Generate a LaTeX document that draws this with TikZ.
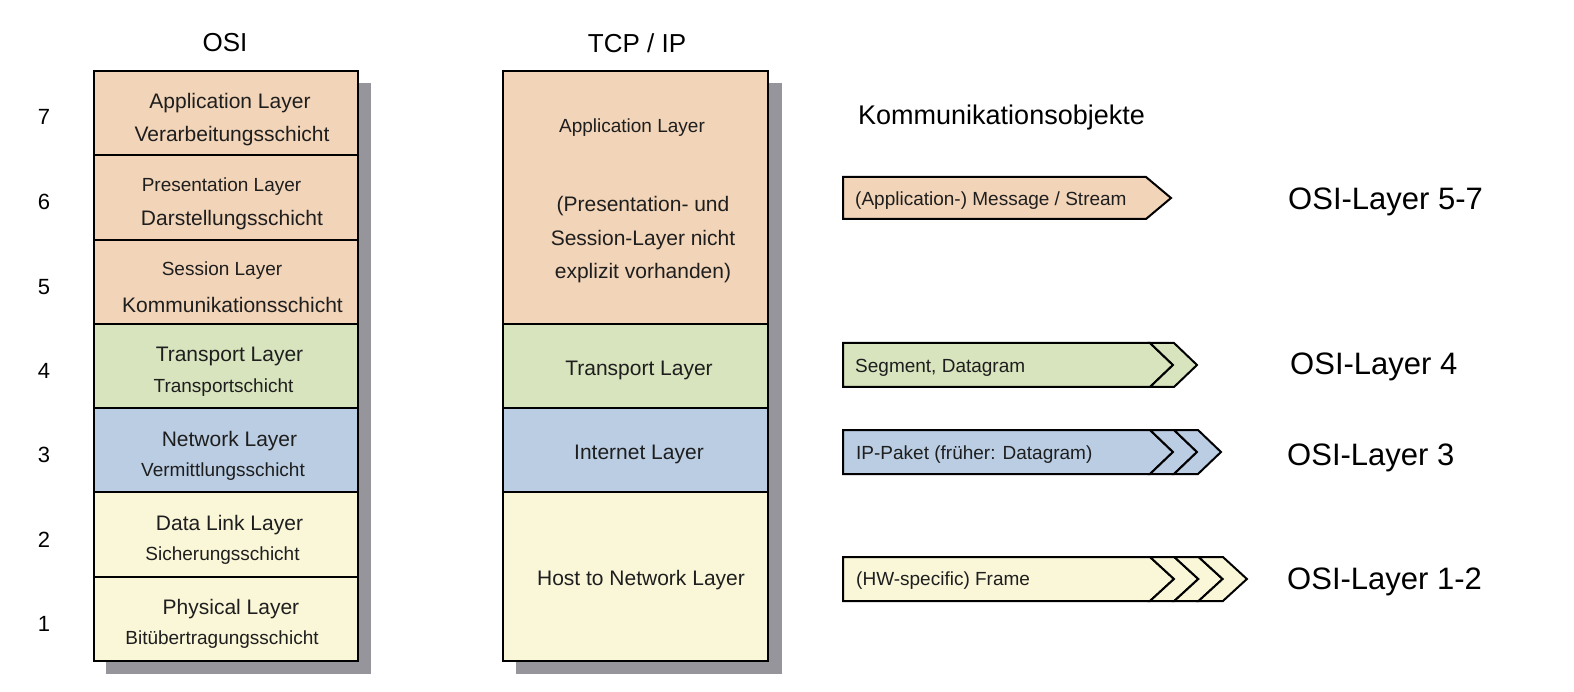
\documentclass[tikz,border=0pt]{standalone}
\usepackage{fontspec}
\setmainfont{Liberation Sans}
\definecolor{peach}{HTML}{F2D4B8}
\definecolor{lgreen}{HTML}{D8E4BD}
\definecolor{lblue}{HTML}{BACDE3}
\definecolor{lyellow}{HTML}{FAF6D8}
\definecolor{shadowgray}{HTML}{96959B}
\definecolor{textc}{HTML}{1E1E1E}
\newcommand\fs[1]{\fontsize{#1}{#1}\selectfont}
\begin{document}
\begin{tikzpicture}[x=1pt,y=-1pt,line join=miter,
  layer/.style={draw=black,line width=2pt,inner sep=0pt,minimum width=264pt},
  tlayer/.style={draw=black,line width=2pt,inner sep=0pt,minimum width=265pt},
  shadowbox/.style={fill=shadowgray,draw=none},
  txt/.style={inner sep=0pt,text=textc,anchor=center},
  big/.style={txt,font=\fs{21}},
  small/.style={txt,font=\fs{19}},
  arrtxt/.style={inner sep=0pt,text=textc,anchor=west,font=\fs{19}},
  objarrow/.style={draw=black,line width=2pt},
  osilbl/.style={inner sep=0pt,text=black,anchor=west,font=\fs{31}},
  numlbl/.style={inner sep=0pt,text=black,font=\fs{22}},
  header/.style={inner sep=0pt,text=black,font=\fs{26}}]
\useasboundingbox (0,0) rectangle (1574,692);
\fill[white] (0,0) rectangle (1574,692);

% shadows
\fill[shadowbox] (106,83) rectangle (371,674);
\fill[shadowbox] (516,83) rectangle (782,674);

% headers
\node[header] (hosi) at (225,43) {OSI};
\node[header] (htcp) at (637,43) {TCP / IP};

% OSI layers
\node[layer,fill=peach,minimum height=84.29pt] (osi7) at (226,113.1) {};
\node[layer,fill=peach,minimum height=84.29pt] (osi6) at (226,197.4) {};
\node[layer,fill=peach,minimum height=84.29pt] (osi5) at (226,281.7) {};
\node[layer,fill=lgreen,minimum height=84.29pt] (osi4) at (226,366.0) {};
\node[layer,fill=lblue,minimum height=84.29pt] (osi3) at (226,450.3) {};
\node[layer,fill=lyellow,minimum height=84.29pt] (osi2) at (226,534.6) {};
\node[layer,fill=lyellow,minimum height=84.29pt] (osi1) at (226,618.9) {};

\node[big] (a1) at (230,103) {Application Layer};
\node[big] (a2) at (232,136) {Verarbeitungsschicht};
\node[small] (p1) at (221.5,187) {Presentation Layer};
\node[big] (p2) at (232,220) {Darstellungsschicht};
\node[small] (s1) at (222,271) {Session Layer};
\node[big] (s2) at (232.5,305) {Kommunikationsschicht};
\node[big] (t1) at (229.5,356) {Transport Layer};
\node[small] (t2) at (223.5,388) {Transportschicht};
\node[big] (n1) at (229.5,441) {Network Layer};
\node[small] (n2) at (223,472) {Vermittlungsschicht};
\node[big] (d1) at (229.5,525) {Data Link Layer};
\node[small] (d2) at (222.5,556) {Sicherungsschicht};
\node[big] (ph1) at (231,609) {Physical Layer};
\node[small] (ph2) at (222,640) {Bitübertragungsschicht};

% numbers
\node[numlbl] (num7) at (44,117) {7};
\node[numlbl] (num6) at (44,202) {6};
\node[numlbl] (num5) at (44,287) {5};
\node[numlbl] (num4) at (44,371) {4};
\node[numlbl] (num3) at (44,455) {3};
\node[numlbl] (num2) at (44,540) {2};
\node[numlbl] (num1) at (44,624) {1};

% TCP/IP layers
\node[tlayer,fill=peach,minimum height=252.9pt] (tapp) at (635.5,197.5) {};
\node[tlayer,fill=lgreen,minimum height=84.29pt] (ttrans) at (635.5,366.0) {};
\node[tlayer,fill=lblue,minimum height=84.29pt] (tint) at (635.5,450.3) {};
\node[tlayer,fill=lyellow,minimum height=168.6pt] (thost) at (635.5,576.7) {};

\node[small] (ta1) at (632,128) {Application Layer};
\node[txt,align=center,font=\fontsize{21}{33.5}\selectfont] (ta2) at (643,240) {(Presentation- und\\Session-Layer nicht\\explizit vorhanden)};
\node[big] (tt1) at (639,370) {Transport Layer};
\node[big] (ti1) at (639,454) {Internet Layer};
\node[big] (th1) at (641,580) {Host to Network Layer};

% Kommunikationsobjekte
\node[inner sep=0pt,text=black,anchor=west,font=\fs{27}] (kobj) at (858,118) {Kommunikationsobjekte};

% arrow 1 (peach)
\draw[objarrow,fill=peach] (843,177) -- (1146,177) -- (1171,198) -- (1146,219) -- (843,219) -- cycle;
\node[arrtxt] (m1) at (855,201) {(Application-) Message / Stream};

% arrow 2 (green)
\draw[objarrow,fill=lgreen] (843,343) -- (1150,343) -- (1173,365) -- (1150,387) -- (843,387) -- cycle;
\draw[objarrow,fill=lgreen] (1150,343) -- (1174,343) -- (1197,365) -- (1174,387) -- (1150,387) -- (1173,365) -- cycle;
\node[arrtxt] (m2) at (855,368) {Segment, Datagram};

% arrow 3 (blue)
\draw[objarrow,fill=lblue] (843,430) -- (1150,430) -- (1173,452) -- (1150,474) -- (843,474) -- cycle;
\foreach \i in {1,2}{
  \draw[objarrow,fill=lblue] ({1150+(\i-1)*24},430) -- ({1150+\i*24},430) -- ({1173+\i*24},452) -- ({1150+\i*24},474) -- ({1150+(\i-1)*24},474) -- ({1173+(\i-1)*24},452) -- cycle;
}
\node[arrtxt] (m3) at (856,455) {IP-Paket (früher: Datagram)};

% arrow 4 (yellow)
\draw[objarrow,fill=lyellow] (843,557) -- (1150,557) -- (1174,579) -- (1150,601) -- (843,601) -- cycle;
\foreach \i in {1,2,3}{
  \draw[objarrow,fill=lyellow] ({1150+(\i-1)*24.3},557) -- ({1150+\i*24.3},557) -- ({1174+\i*24.3},579) -- ({1150+\i*24.3},601) -- ({1150+(\i-1)*24.3},601) -- ({1174+(\i-1)*24.3},579) -- cycle;
}
\node[arrtxt] (m4) at (856,581) {(HW-specific) Frame};

% OSI layer labels
\node[osilbl] (l57) at (1288,202) {OSI-Layer 5-7};
\node[osilbl] (l4) at (1290,367) {OSI-Layer 4};
\node[osilbl] (l3) at (1287,458) {OSI-Layer 3};
\node[osilbl] (l12) at (1287,582) {OSI-Layer 1-2};
\end{tikzpicture}
\end{document}
